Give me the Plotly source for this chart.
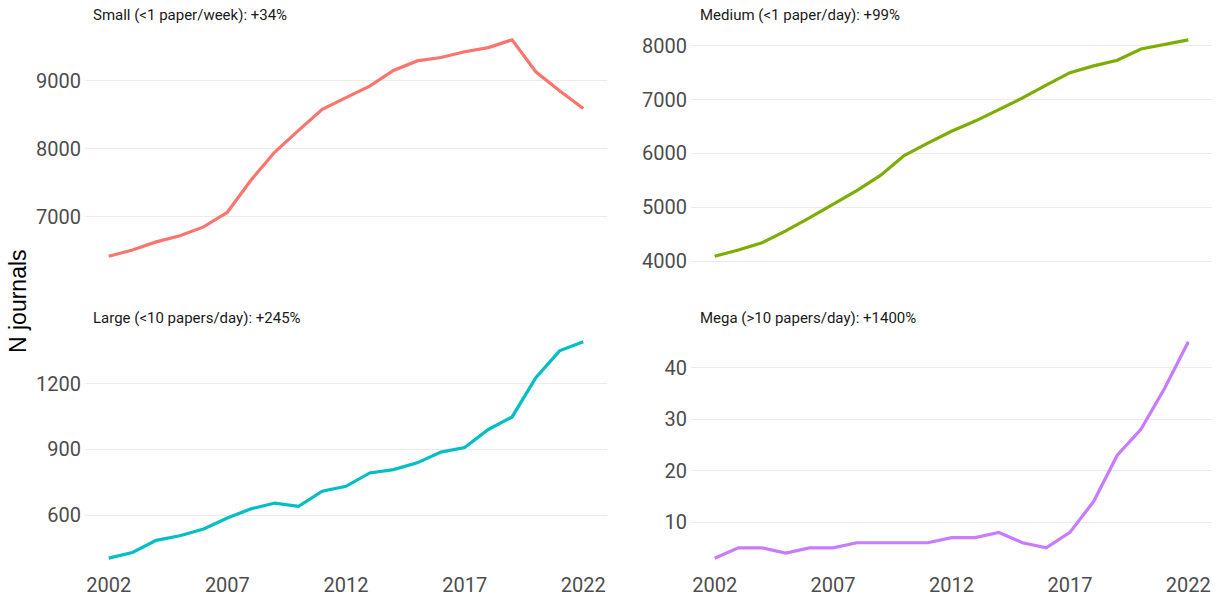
import plotly.graph_objects as go

years = list(range(2002, 2023))

small = [6420, 6510, 6630, 6720, 6850, 7065, 7540, 7950, 8270, 8580, 8750,
         8920, 9150, 9290, 9340, 9425, 9485, 9600, 9130, 8850, 8590]
medium = [4090, 4205, 4340, 4560, 4800, 5050, 5310, 5590, 5960, 6190, 6410,
          6600, 6810, 7030, 7270, 7500, 7625, 7730, 7940, 8020, 8110]
large = [405, 431, 486, 507, 538, 588, 630, 656, 641, 710, 732,
         793, 808, 839, 888, 909, 991, 1048, 1227, 1349, 1390]
mega = [3, 5, 5, 4, 5, 5, 6, 6, 6, 6, 7, 7, 8, 6, 5, 8, 14, 23, 28, 36, 45]

panel_titles = ["Small (<1 paper/week): +34%", "Medium (<1 paper/day): +99%",
                "Large (<10 papers/day): +245%", "Mega (>10 papers/day): +1400%"]
colors = ["#F8766D", "#7CAE00", "#00BFC4", "#C77CFF"]
x_ticks = [2002, 2007, 2012, 2017, 2022]
y_ticks = [[7000, 8000, 9000], [4000, 5000, 6000, 7000, 8000],
           [600, 900, 1200], [10, 20, 30, 40]]
series = [small, medium, large, mega]

W, H = 1220, 596
xdom = [[85 / W, 607 / W], [691 / W, 1212 / W]]
ydom = [[1 - 267 / H, 1 - 29 / H], [1 - 569 / H, 1 - 331 / H]]

tickfont = dict(family="Roboto", size=20, color="#4d4d4d")

fig = go.Figure()
layout = {}
annotations = []
for i in range(4):
    row, col = divmod(i, 2)
    n = i + 1
    xa = "x" if n == 1 else f"x{n}"
    ya = "y" if n == 1 else f"y{n}"
    fig.add_trace(go.Scatter(x=years, y=series[i], mode="lines",
                             line=dict(color=colors[i], width=3.2),
                             xaxis=xa, yaxis=ya, showlegend=False,
                             hoverinfo="x+y"))
    vals = series[i]
    lo, hi = min(vals), max(vals)
    pad = (hi - lo) * 0.05
    layout[f"xaxis{'' if n == 1 else n}"] = dict(
        domain=xdom[col], anchor=ya, range=[2001, 2023], automargin=False,
        tickvals=x_ticks, showticklabels=(row == 1), showgrid=False,
        zeroline=False, showline=False, ticks="", ticklabelstandoff=2,
        tickfont=tickfont)
    layout[f"yaxis{'' if n == 1 else n}"] = dict(
        domain=ydom[row], anchor=xa, range=[lo - pad, hi + pad], automargin=False,
        tickvals=y_ticks[i], showgrid=True, gridcolor="#ebebeb", gridwidth=1.2,
        zeroline=False, showline=False, ticks="", ticklabelstandoff=3,
        tickfont=tickfont)
    annotations.append(dict(
        text=panel_titles[i], xref="paper", yref="paper",
        x=(91 if col == 0 else 698) / W,
        y=1 - (15 if row == 0 else 318) / H,
        xanchor="left", yanchor="middle", showarrow=False,
        font=dict(family="Roboto", size=15, color="#1a1a1a")))

annotations.append(dict(text="N journals", xref="paper", yref="paper",
                        x=18 / W, y=1 - 301 / H, textangle=-90,
                        xanchor="center", yanchor="middle", showarrow=False,
                        font=dict(family="Liberation Sans", size=23, color="#000000")))

fig.update_layout(width=W, height=H, margin=dict(l=0, r=0, t=0, b=0),
                  template="none",
                  plot_bgcolor="white", paper_bgcolor="white",
                  annotations=annotations, **layout)
fig.write_html("out.html", config={"displayModeBar": False},
               post_script="document.body.style.margin='0';"
                           "document.body.style.overflow='hidden';")
